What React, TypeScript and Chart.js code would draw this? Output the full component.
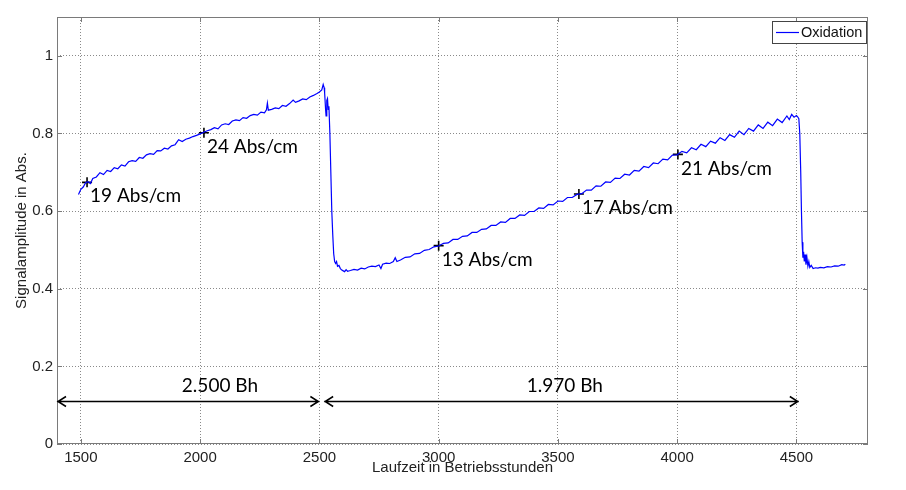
import React, { useEffect, useRef } from 'react';
import { Chart, registerables } from 'chart.js';

Chart.register(...registerables);

// ---- Data ----
const hours: number[] = [
  1490, 1500, 1510, 1520, 1530, 1540, 1550, 1565, 1580, 1595, 1610, 1625, 1640, 1655, 1670, 1685, 1700, 1715, 1730, 1745,
  1760, 1775, 1790, 1805, 1820, 1835, 1850, 1865, 1880, 1895, 1910, 1925, 1940, 1955, 1970, 1985, 2000, 2015, 2030, 2045,
  2060, 2075, 2090, 2105, 2120, 2135, 2150, 2165, 2180, 2195, 2210, 2225, 2240, 2255, 2270, 2278, 2282, 2286, 2300, 2315,
  2330, 2345, 2360, 2375, 2390, 2400, 2415, 2430, 2445, 2460, 2475, 2490, 2500, 2510, 2516, 2520,
  2522, 2526, 2528, 2531, 2534, 2537, 2540, 2544, 2548, 2552, 2556, 2560, 2564, 2568, 2572, 2576, 2582, 2588, 2594, 2600,
  2606, 2612, 2618,
  2630, 2645, 2660, 2675, 2690, 2705, 2720, 2735, 2750, 2758, 2765, 2780, 2795, 2810, 2818, 2825,
  2840, 2860, 2880, 2900, 2920, 2940, 2960, 2980, 3000, 3020, 3040, 3060, 3080, 3100, 3120, 3140, 3160, 3180, 3200, 3220,
  3240, 3260, 3280, 3300, 3320, 3340, 3360, 3380, 3400, 3420, 3440, 3460, 3480, 3500, 3520, 3540, 3560, 3580, 3600, 3620,
  3640, 3660, 3680, 3700, 3720, 3740, 3760, 3780, 3800, 3820, 3840, 3860, 3880, 3900, 3920, 3940, 3960, 3980, 4000, 4020,
  4040, 4060, 4080, 4100, 4120, 4140, 4160, 4180, 4200, 4220, 4240, 4260, 4280, 4300, 4320, 4340, 4360, 4380, 4400, 4420,
  4440, 4460, 4470, 4480, 4490,
  4500, 4505, 4510, 4514, 4518, 4521, 4524, 4527, 4530, 4533, 4536, 4540, 4544, 4548, 4552, 4556, 4562, 4570, 4580, 4590,
  4600, 4615, 4630, 4645, 4660, 4675, 4690, 4700, 4705,
];

const signal: number[] = [
  0.643, 0.656, 0.662, 0.673, 0.676, 0.671, 0.684, 0.688, 0.699, 0.694, 0.705, 0.702, 0.712, 0.709, 0.719, 0.716, 0.727, 0.730, 0.728, 0.738,
  0.736, 0.745, 0.748, 0.746, 0.756, 0.755, 0.762, 0.760, 0.768, 0.771, 0.784, 0.779, 0.785, 0.788, 0.792, 0.795, 0.799, 0.803, 0.807, 0.810,
  0.815, 0.812, 0.822, 0.825, 0.823, 0.832, 0.835, 0.833, 0.841, 0.839, 0.846, 0.849, 0.847, 0.855, 0.853, 0.861, 0.878, 0.860, 0.862, 0.866,
  0.864, 0.872, 0.870, 0.877, 0.886, 0.880, 0.884, 0.889, 0.887, 0.894, 0.898, 0.903, 0.907, 0.912, 0.926, 0.918,
  0.905, 0.862, 0.845, 0.885, 0.890, 0.862, 0.870, 0.800, 0.700, 0.600, 0.540, 0.490, 0.470, 0.465, 0.470, 0.458, 0.460, 0.452, 0.448, 0.446,
  0.444, 0.449, 0.445,
  0.447, 0.450, 0.448, 0.453, 0.451, 0.456, 0.458, 0.457, 0.461, 0.452, 0.463, 0.466, 0.465, 0.470, 0.480, 0.470,
  0.474, 0.481, 0.482, 0.490, 0.491, 0.499, 0.501, 0.508, 0.510, 0.517, 0.518, 0.527, 0.527, 0.535, 0.536, 0.545, 0.545, 0.553, 0.554, 0.563,
  0.563, 0.572, 0.571, 0.581, 0.581, 0.590, 0.589, 0.599, 0.599, 0.608, 0.607, 0.617, 0.616, 0.626, 0.625, 0.635, 0.635, 0.643, 0.645, 0.654,
  0.654, 0.665, 0.664, 0.675, 0.674, 0.685, 0.684, 0.695, 0.693, 0.705, 0.703, 0.715, 0.712, 0.724, 0.722, 0.734, 0.732, 0.744, 0.745, 0.754,
  0.750, 0.763, 0.758, 0.772, 0.766, 0.780, 0.775, 0.789, 0.782, 0.797, 0.790, 0.806, 0.797, 0.813, 0.806, 0.822, 0.813, 0.829, 0.820, 0.837,
  0.828, 0.845, 0.836, 0.849, 0.842,
  0.846, 0.843, 0.838, 0.800, 0.700, 0.600, 0.520, 0.480, 0.495, 0.470, 0.488, 0.462, 0.480, 0.458, 0.470, 0.455, 0.460, 0.452, 0.454, 0.453,
  0.455, 0.454, 0.457, 0.456, 0.459, 0.458, 0.462, 0.461, 0.463,
];

const markerHours: number[] = [1526, 2016, 3000, 3588, 4003];
const markerValues: number[] = [0.674, 0.802, 0.511, 0.644, 0.746];
const markerLabels: string[] = ['19 Abs/cm', '24 Abs/cm', '13 Abs/cm', '17 Abs/cm', '21 Abs/cm'];

const spanStarts: number[] = [1400, 2520];
const spanEnds: number[] = [2500, 4510];
const spanLabels: string[] = ['2.500 Bh', '1.970 Bh'];
const spanLabelHours: number[] = [2083, 3529];
const spanLevel = 0.112;
const spanLabelLevel = 0.151;

const xTicks: number[] = [1500, 2000, 2500, 3000, 3500, 4000, 4500];
const yTicks: number[] = [0, 0.2, 0.4, 0.6, 0.8, 1];

const seriesName = 'Oxidation';
const xTitle = 'Laufzeit in Betriebsstunden';
const yTitle = 'Signalamplitude in Abs.';

const AXIS_FONT = '15px "Liberation Sans", Arial, sans-serif';
const NOTE_FONT = '19px Lato, "Open Sans", sans-serif';

const overlay = {
  id: 'overlay',
  beforeDatasetsDraw(chart: any) {
    const { ctx, chartArea: a } = chart;
    const xs = chart.scales.x;
    const ys = chart.scales.y;
    ctx.save();
    ctx.strokeStyle = '#7a7a7a';
    ctx.lineWidth = 1;
    ctx.strokeRect(Math.round(a.left) + 0.5, Math.round(a.top) + 0.5, Math.round(a.right - a.left) - 1, Math.round(a.bottom - a.top) - 1);
    ctx.beginPath();
    const tl = 5;
    xTicks.forEach((v) => {
      const px = Math.round(xs.getPixelForValue(v)) + 0.5;
      ctx.moveTo(px, a.bottom);
      ctx.lineTo(px, a.bottom - tl);
      ctx.moveTo(px, a.top);
      ctx.lineTo(px, a.top + tl);
    });
    yTicks.forEach((v) => {
      const py = Math.round(ys.getPixelForValue(v)) + 0.5;
      ctx.moveTo(a.left, py);
      ctx.lineTo(a.left + tl, py);
      ctx.moveTo(a.right, py);
      ctx.lineTo(a.right - tl, py);
    });
    ctx.stroke();
    ctx.restore();
  },
  afterDraw(chart: any) {
    const { ctx, chartArea: a } = chart;
    const xs = chart.scales.x;
    const ys = chart.scales.y;
    ctx.save();

    // span arrows
    ctx.strokeStyle = '#000';
    ctx.lineWidth = 1.5;
    const ay = Math.round(ys.getPixelForValue(spanLevel)) + 0.5;
    spanStarts.forEach((s, i) => {
      const x1 = xs.getPixelForValue(s);
      const x2 = xs.getPixelForValue(spanEnds[i]);
      ctx.beginPath();
      ctx.moveTo(x1, ay);
      ctx.lineTo(x2, ay);
      ctx.moveTo(x1 + 9, ay - 5);
      ctx.lineTo(x1 + 1, ay);
      ctx.lineTo(x1 + 9, ay + 5);
      ctx.moveTo(x2 - 9, ay - 5);
      ctx.lineTo(x2 - 1, ay);
      ctx.lineTo(x2 - 9, ay + 5);
      ctx.stroke();
    });
    ctx.fillStyle = '#000';
    ctx.font = NOTE_FONT;
    ctx.textAlign = 'center';
    ctx.textBaseline = 'middle';
    spanLabels.forEach((t, i) => {
      ctx.fillText(t, xs.getPixelForValue(spanLabelHours[i]), ys.getPixelForValue(spanLabelLevel));
    });

    // marker labels
    ctx.textAlign = 'left';
    markerLabels.forEach((t, i) => {
      ctx.fillText(t, xs.getPixelForValue(markerHours[i]) + 3, ys.getPixelForValue(markerValues[i]) + 14);
    });

    // legend
    const lx = Math.round(a.right) - 96;
    const ly = Math.round(a.top) + 4;
    ctx.fillStyle = '#fff';
    ctx.fillRect(lx, ly, 94, 22);
    ctx.strokeStyle = '#444';
    ctx.lineWidth = 1;
    ctx.strokeRect(lx + 0.5, ly + 0.5, 94, 22);
    ctx.strokeStyle = '#0000ff';
    ctx.lineWidth = 1.2;
    ctx.beginPath();
    ctx.moveTo(lx + 4, ly + 11.5);
    ctx.lineTo(lx + 27, ly + 11.5);
    ctx.stroke();
    ctx.fillStyle = '#111';
    ctx.font = '14.5px "Liberation Sans", Arial, sans-serif';
    ctx.textBaseline = 'middle';
    ctx.fillText(seriesName, lx + 29, ly + 12);

    // axis titles
    ctx.font = AXIS_FONT;
    ctx.fillStyle = '#222';
    ctx.textAlign = 'center';
    ctx.fillText(xTitle, (a.left + a.right) / 2, 468);
    ctx.translate(22, (a.top + a.bottom) / 2);
    ctx.rotate(-Math.PI / 2);
    ctx.fillText(yTitle, 0, 0);
    ctx.restore();
  },
};

export default function App() {
  const ref = useRef<HTMLCanvasElement | null>(null);
  useEffect(() => {
    if (!ref.current) return;
    const chart = new Chart(ref.current, {
      type: 'line',
      data: {
        datasets: [
          {
            label: seriesName,
            data: hours.map((h, i) => ({ x: h, y: signal[i] })),
            borderColor: '#0000ff',
            borderWidth: 1.2,
            pointRadius: 0,
            tension: 0,
            fill: false,
          },
          {
            label: 'Marker',
            data: markerHours.map((h, i) => ({ x: h, y: markerValues[i] })),
            showLine: false,
            pointStyle: 'cross',
            pointRadius: 5,
            pointBorderWidth: 1.6,
            borderColor: '#000',
            backgroundColor: '#000',
          },
        ],
      },
      options: {
        responsive: false,
        animation: false,
        devicePixelRatio: 1,
        layout: { padding: { top: 17, right: 38, left: 0, bottom: 0 } },
        plugins: { legend: { display: false }, tooltip: { enabled: false } },
        scales: {
          x: {
            type: 'linear',
            min: 1400,
            max: 4800,
            afterBuildTicks: (s: any) => {
              s.ticks = xTicks.map((v) => ({ value: v }));
            },
            afterFit: (s: any) => {
              s.height = 46;
            },
            grid: { color: '#8a8a8a', lineWidth: 1, drawTicks: false },
            border: { display: false, dash: [1, 2] },
            ticks: {
              padding: 5,
              color: '#222',
              font: { family: '"Liberation Sans", Arial, sans-serif', size: 15 },
              maxRotation: 0,
              callback: (v: any) => String(v),
            },
          },
          y: {
            type: 'linear',
            min: 0,
            max: 1.1,
            afterBuildTicks: (s: any) => {
              s.ticks = yTicks.map((v) => ({ value: v }));
            },
            afterFit: (s: any) => {
              s.width = 57;
            },
            grid: { color: '#8a8a8a', lineWidth: 1, drawTicks: false },
            border: { display: false, dash: [1, 2] },
            ticks: {
              padding: 4,
              color: '#222',
              font: { family: '"Liberation Sans", Arial, sans-serif', size: 15 },
              callback: (v: any) => String(Number(Number(v).toFixed(1))),
            },
          },
        },
      },
      plugins: [overlay],
    } as any);
    return () => chart.destroy();
  }, []);
  return (
    <div style={{ position: 'absolute', left: 0, top: 0, width: 906, height: 490, background: '#fff' }}>
      <canvas ref={ref} width={906} height={490} />
    </div>
  );
}
